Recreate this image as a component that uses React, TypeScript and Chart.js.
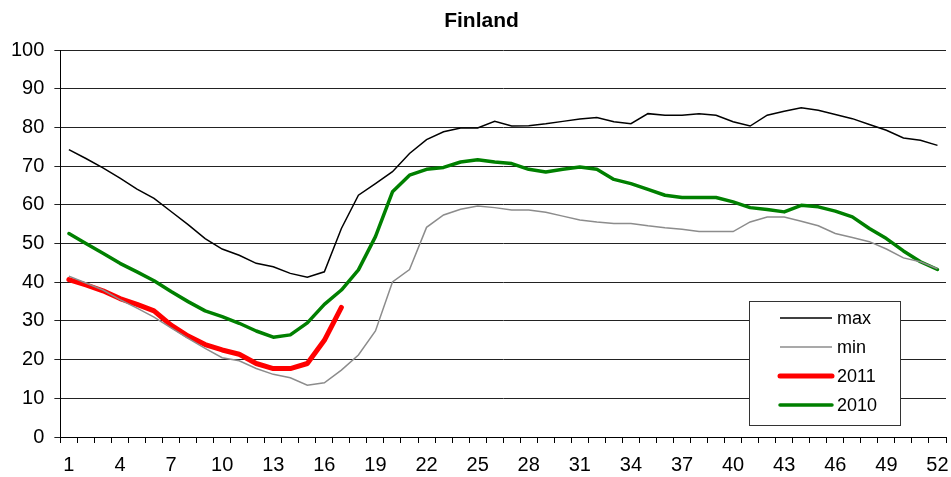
import React, { useEffect, useRef } from "react";
import { Chart, registerables } from "chart.js";

Chart.register(...registerables);

const weeks: string[] = Array.from({ length: 52 }, (_, i) => String(i + 1));

const maxValues: number[] = [
  74.3, 72.0, 69.6, 66.9, 64.1, 61.7, 58.3, 54.9, 51.3, 48.6,
  47.0, 44.9, 44.0, 42.3, 41.3, 42.7, 53.9, 62.5, 65.5, 68.6,
  73.3, 76.9, 78.9, 79.9, 79.9, 81.6, 80.4, 80.5, 81.0, 81.6,
  82.2, 82.6, 81.5, 81.0, 83.6, 83.2, 83.2, 83.6, 83.2, 81.5,
  80.4, 83.2, 84.2, 85.1, 84.5, 83.4, 82.3, 80.8, 79.3, 77.3, 76.7, 75.4,
];

const minValues: number[] = [
  41.6, 39.8, 38.0, 35.5, 33.3, 31.0, 28.2, 25.5, 22.9, 20.5,
  19.7, 17.7, 16.2, 15.3, 13.4, 14.0, 17.3, 21.2, 27.4, 40.1,
  43.3, 54.2, 57.4, 58.9, 59.7, 59.3, 58.7, 58.7, 58.1, 57.1,
  56.1, 55.6, 55.2, 55.2, 54.6, 54.1, 53.7, 53.1, 53.1, 53.1,
  55.6, 56.9, 56.9, 55.8, 54.6, 52.6, 51.6, 50.5, 48.6, 46.3, 45.3, 43.5,
];

const values2011: number[] = [
  40.7, 39.3, 37.8, 35.8, 34.3, 32.6, 28.9, 26.1, 23.9, 22.5,
  21.4, 19.0, 17.7, 17.7, 19.0, 25.0, 33.5,
];

const values2010: number[] = [
  52.6, 50.0, 47.5, 44.9, 42.7, 40.4, 37.6, 35.0, 32.6, 31.1,
  29.4, 27.4, 25.8, 26.4, 29.5, 34.3, 38.0, 43.2, 51.8, 63.4,
  67.7, 69.2, 69.7, 71.1, 71.7, 71.1, 70.7, 69.2, 68.5, 69.2,
  69.8, 69.2, 66.6, 65.5, 64.0, 62.5, 61.9, 61.9, 61.9, 60.8,
  59.3, 58.8, 58.2, 59.9, 59.5, 58.4, 56.9, 53.9, 51.3, 48.1, 45.3, 43.3,
];

const yTicks: number[] = [0, 10, 20, 30, 40, 50, 60, 70, 80, 90, 100];
const labelEvery = 3;

const FONT = "'Liberation Sans', Arial, sans-serif";

const boxLegend = {
  id: "boxLegend",
  afterDraw(chart: any) {
    const { ctx, chartArea } = chart;
    const right = chartArea.right - 46;
    const bottom = chartArea.bottom - 12;
    const w = 151;
    const h = 124;
    const left = right - w;
    const top = bottom - h;
    ctx.save();
    ctx.fillStyle = "#ffffff";
    ctx.fillRect(left, top, w, h);
    ctx.strokeStyle = "#333333";
    ctx.lineWidth = 1;
    ctx.strokeRect(Math.round(left) + 0.5, Math.round(top) + 0.5, w, h);
    ctx.font = `18px ${FONT}`;
    ctx.textBaseline = "middle";
    ctx.textAlign = "left";
    chart.data.datasets.forEach((ds: any, i: number) => {
      const y = top + 17 + i * 29;
      ctx.beginPath();
      ctx.strokeStyle = ds.borderColor;
      ctx.lineWidth = ds.borderWidth;
      ctx.lineCap = ds.borderWidth > 2 ? "round" : "butt";
      ctx.moveTo(left + 31, y);
      ctx.lineTo(left + 83, y);
      ctx.stroke();
      ctx.fillStyle = "#000000";
      ctx.fillText(ds.label, left + 88, y + 1);
    });
    ctx.restore();
  },
};

export default function App() {
  const ref = useRef<HTMLCanvasElement | null>(null);

  useEffect(() => {
    if (!ref.current) return;
    const chart = new Chart(ref.current, {
      type: "line",
      data: {
        labels: weeks,
        datasets: [
          {
            label: "max",
            data: maxValues,
            borderColor: "#000000",
            borderWidth: 1.5,
            pointRadius: 0,
            tension: 0,
          },
          {
            label: "min",
            data: minValues,
            borderColor: "#8c8c8c",
            borderWidth: 1.5,
            pointRadius: 0,
            tension: 0,
          },
          {
            label: "2011",
            data: values2011,
            borderColor: "#ff0000",
            borderWidth: 5,
            borderCapStyle: "round",
            borderJoinStyle: "round",
            pointRadius: 0,
            tension: 0,
          },
          {
            label: "2010",
            data: values2010,
            borderColor: "#008000",
            borderWidth: 3.5,
            borderCapStyle: "round",
            borderJoinStyle: "round",
            pointRadius: 0,
            tension: 0,
          },
        ],
      },
      options: {
        animation: false,
        responsive: false,
        maintainAspectRatio: false,
        layout: { padding: { left: 1, right: -11, top: 0, bottom: -10 } },
        plugins: {
          legend: { display: false },
          tooltip: { enabled: false },
          title: {
            display: true,
            text: "Finland",
            color: "#000000",
            font: { family: FONT, size: 21, weight: "bold" },
            padding: { top: 9, bottom: 16 },
          },
        },
        scales: {
          x: {
            type: "category",
            offset: true,
            afterFit: (scale: any) => {
              scale.paddingLeft = 0;
              scale.paddingRight = 5;
            },
            grid: {
              display: true,
              offset: true,
              drawOnChartArea: false,
              drawTicks: true,
              tickLength: 6,
              color: "#000000",
            },
            border: { display: true, color: "#000000", width: 1 },
            ticks: {
              autoSkip: false,
              maxRotation: 0,
              padding: 10,
              color: "#000000",
              font: { family: FONT, size: 20 },
              callback: (_v: any, i: number) =>
                i % labelEvery === 0 ? weeks[i] : "",
            },
          },
          y: {
            min: yTicks[0],
            max: yTicks[yTicks.length - 1],
            afterBuildTicks: (scale: any) => {
              scale.ticks = yTicks.map((v) => ({ value: v }));
            },
            grid: {
              display: true,
              drawOnChartArea: true,
              drawTicks: true,
              tickLength: 6,
              color: "#222222",
              lineWidth: 1,
            },
            border: { display: true, color: "#000000", width: 1 },
            ticks: {
              padding: 10,
              color: "#000000",
              font: { family: FONT, size: 20 },
            },
          },
        },
      },
      plugins: [boxLegend],
    });
    return () => chart.destroy();
  }, []);

  return (
    <div style={{ position: "fixed", left: 0, top: 0, width: 951, height: 477, background: "#ffffff" }}>
      <canvas ref={ref} width={951} height={477} style={{ display: "block", width: 951, height: 477 }} />
    </div>
  );
}
